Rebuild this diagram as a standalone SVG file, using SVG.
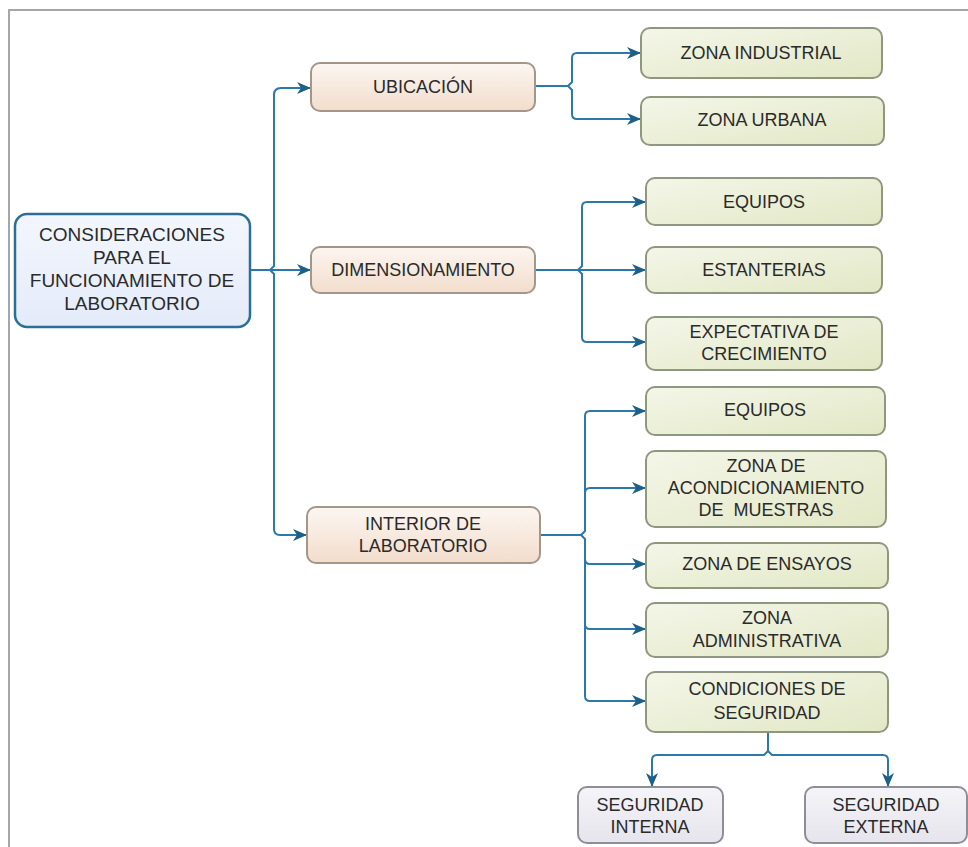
<svg xmlns="http://www.w3.org/2000/svg" width="968" height="847" viewBox="0 0 968 847">
  <defs>
    <linearGradient id="gBlue" x1="0" y1="0" x2="0" y2="1">
      <stop offset="0" stop-color="#f3f6fd"/>
      <stop offset="1" stop-color="#e4ebf9"/>
    </linearGradient>
    <linearGradient id="gPeach" x1="0" y1="0" x2="0" y2="1">
      <stop offset="0" stop-color="#fcf6f1"/>
      <stop offset="1" stop-color="#f2ddcc"/>
    </linearGradient>
    <linearGradient id="gGreen" x1="0" y1="0" x2="1" y2="1">
      <stop offset="0" stop-color="#f4f6e8"/>
      <stop offset="1" stop-color="#e2e8c6"/>
    </linearGradient>
    <linearGradient id="gLilac" x1="0" y1="0" x2="0" y2="1">
      <stop offset="0" stop-color="#f5f4f8"/>
      <stop offset="1" stop-color="#e6e4ec"/>
    </linearGradient>
    <marker id="ah" viewBox="0 0 14 12" refX="14" refY="6" markerWidth="14" markerHeight="12" orient="auto" markerUnits="userSpaceOnUse">
      <path d="M0,0 L14,6 L0,12 L4,6 Z" fill="#1d5f85"/>
    </marker>
  </defs>
  <style>
    .frame { fill: none; stroke: #a6a6a6; stroke-width: 2; }
    .root { fill: url(#gBlue); stroke: #2b6f96; stroke-width: 2.5; }
    .mid { fill: url(#gPeach); stroke: #a3968a; stroke-width: 2; }
    .leaf { fill: url(#gGreen); stroke: #8f987f; stroke-width: 2; }
    .sub { fill: url(#gLilac); stroke: #8e8d98; stroke-width: 2; }
    .wire { fill: none; stroke: #2c78ab; stroke-width: 2; }
    .arrow { marker-end: url(#ah); }
    text { font-family: "Liberation Sans", Arial, sans-serif; font-size: 18px; fill: #2a2a2a; text-anchor: middle; dominant-baseline: central; }
    .big { font-size: 19px; }
  </style>

  <rect width="968" height="847" fill="#ffffff"/>
  <path class="frame" d="M9,847 V10 H968"/>

  <g id="connectors">
    <!-- root to second level -->
    <path class="wire" d="M250,270 H270"/>
    <path class="wire arrow" d="M270,270 L274,266 V95 Q274,88 281,88 H311"/>
    <path class="wire arrow" d="M270,270 H311"/>
    <path class="wire arrow" d="M270,270 L274,274 V529 Q274,535 280,535 H307"/>
    <!-- ubicación -->
    <path class="wire" d="M535,86 H568"/>
    <path class="wire arrow" d="M568,86 L572,82 V58 Q572,53 577,53 H641"/>
    <path class="wire arrow" d="M568,86 L572,90 V114 Q572,119 577,119 H641"/>
    <!-- dimensionamiento -->
    <path class="wire" d="M535,270 H578"/>
    <path class="wire arrow" d="M578,270 L582,266 V207 Q582,202 587,202 H646"/>
    <path class="wire arrow" d="M578,270 H646"/>
    <path class="wire arrow" d="M578,270 L582,274 V337 Q582,342 587,342 H646"/>
    <!-- interior de laboratorio -->
    <path class="wire" d="M540,535 H581"/>
    <path class="wire arrow" d="M581,535 L585,531 V416 Q585,411 590,411 H646"/>
    <path class="wire arrow" d="M585,493 Q585,488 590,488 H646"/>
    <path class="wire arrow" d="M581,535 L585,539 V696 Q585,701 590,701 H646"/>
    <path class="wire arrow" d="M585,559 Q585,564 590,564 H646"/>
    <path class="wire arrow" d="M585,624 Q585,629 590,629 H646"/>
    <!-- condiciones de seguridad -->
    <path class="wire arrow" d="M768,732 V751 L764,755 H657 Q652,755 652,760 V787"/>
    <path class="wire arrow" d="M768,732 V751 L772,755 H883 Q888,755 888,760 V787"/>
  </g>

  <g id="n-root">
    <rect class="root" x="15" y="214" width="235" height="113" rx="12"/>
    <text class="big" x="132" y="234">CONSIDERACIONES</text>
    <text class="big" x="132" y="257">PARA EL</text>
    <text class="big" x="132" y="280">FUNCIONAMIENTO DE</text>
    <text class="big" x="132" y="303">LABORATORIO</text>
  </g>

  <g id="n-ubicacion">
    <rect class="mid" x="311" y="63" width="224" height="48" rx="9"/>
    <text x="423" y="87">UBICACIÓN</text>
  </g>
  <g id="n-dimensionamiento">
    <rect class="mid" x="311" y="247" width="224" height="46" rx="9"/>
    <text x="423" y="270">DIMENSIONAMIENTO</text>
  </g>
  <g id="n-interior">
    <rect class="mid" x="307" y="507" width="233" height="56" rx="9"/>
    <text x="423" y="524">INTERIOR DE</text>
    <text x="423" y="546">LABORATORIO</text>
  </g>

  <g id="n-zona-industrial">
    <rect class="leaf" x="641" y="28" width="241" height="50" rx="9"/>
    <text x="761" y="53">ZONA INDUSTRIAL</text>
  </g>
  <g id="n-zona-urbana">
    <rect class="leaf" x="641" y="97" width="243" height="48" rx="9"/>
    <text x="762" y="120">ZONA URBANA</text>
  </g>

  <g id="n-equipos-dim">
    <rect class="leaf" x="646" y="178" width="236" height="47" rx="9"/>
    <text x="764" y="202">EQUIPOS</text>
  </g>
  <g id="n-estanterias">
    <rect class="leaf" x="646" y="247" width="236" height="46" rx="9"/>
    <text x="764" y="270">ESTANTERIAS</text>
  </g>
  <g id="n-expectativa">
    <rect class="leaf" x="646" y="317" width="236" height="53" rx="9"/>
    <text x="764" y="332">EXPECTATIVA DE</text>
    <text x="764" y="354">CRECIMIENTO</text>
  </g>

  <g id="n-equipos-int">
    <rect class="leaf" x="646" y="387" width="239" height="48" rx="9"/>
    <text x="765" y="410">EQUIPOS</text>
  </g>
  <g id="n-acondicionamiento">
    <rect class="leaf" x="646" y="451" width="240" height="76" rx="9"/>
    <text x="766" y="466">ZONA DE</text>
    <text x="766" y="488">ACONDICIONAMIENTO</text>
    <text x="766" y="510" xml:space="preserve">DE  MUESTRAS</text>
  </g>
  <g id="n-ensayos">
    <rect class="leaf" x="646" y="543" width="242" height="45" rx="9"/>
    <text x="767" y="564">ZONA DE ENSAYOS</text>
  </g>
  <g id="n-administrativa">
    <rect class="leaf" x="646" y="603" width="242" height="54" rx="9"/>
    <text x="767" y="618">ZONA</text>
    <text x="767" y="641">ADMINISTRATIVA</text>
  </g>
  <g id="n-condiciones">
    <rect class="leaf" x="646" y="672" width="242" height="60" rx="9"/>
    <text x="767" y="689">CONDICIONES DE</text>
    <text x="767" y="713">SEGURIDAD</text>
  </g>

  <g id="n-seg-interna">
    <rect class="sub" x="578" y="787" width="145" height="56" rx="9"/>
    <text x="650" y="805">SEGURIDAD</text>
    <text x="650" y="827">INTERNA</text>
  </g>
  <g id="n-seg-externa">
    <rect class="sub" x="805" y="787" width="162" height="56" rx="9"/>
    <text x="886" y="805">SEGURIDAD</text>
    <text x="886" y="827">EXTERNA</text>
  </g>
</svg>
